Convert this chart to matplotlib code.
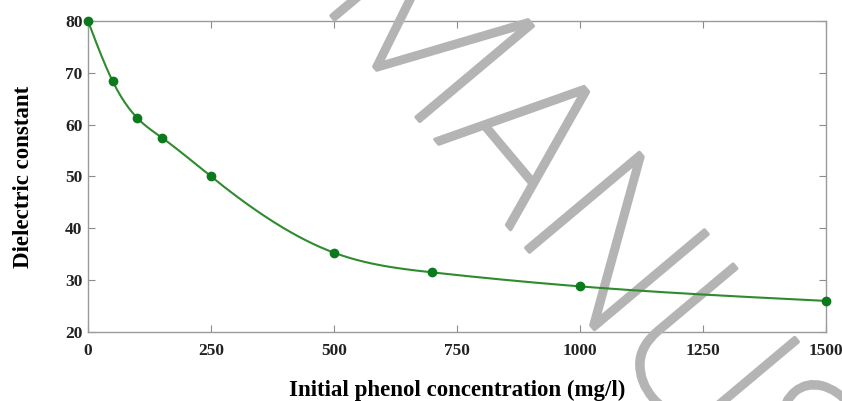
import numpy as np
import matplotlib
matplotlib.use("Agg")
import matplotlib.pyplot as plt
import matplotlib.patheffects as pe

# Measured dielectric constant versus initial phenol concentration
concentration = [0, 50, 100, 150, 250, 500, 700, 1000, 1500]
dielectric = [80.0, 68.4, 61.3, 57.5, 50.0, 35.3, 31.5, 28.8, 26.0]
x_ticks = [0, 250, 500, 750, 1000, 1250, 1500]
y_ticks = [20, 30, 40, 50, 60, 70, 80]


def natural_spline(x, y, xs):
    x = np.asarray(x, float)
    y = np.asarray(y, float)
    n = len(x)
    h = np.diff(x)
    A = np.zeros((n, n))
    b = np.zeros(n)
    A[0, 0] = A[-1, -1] = 1.0
    for i in range(1, n - 1):
        A[i, i - 1] = h[i - 1]
        A[i, i] = 2 * (h[i - 1] + h[i])
        A[i, i + 1] = h[i]
        b[i] = 6 * ((y[i + 1] - y[i]) / h[i] - (y[i] - y[i - 1]) / h[i - 1])
    M = np.linalg.solve(A, b)
    idx = np.clip(np.searchsorted(x, xs) - 1, 0, n - 2)
    x0, x1 = x[idx], x[idx + 1]
    hh = x1 - x0
    t0, t1 = x1 - xs, xs - x0
    return (M[idx] * t0**3 / (6 * hh) + M[idx + 1] * t1**3 / (6 * hh)
            + (y[idx] / hh - M[idx] * hh / 6) * t0
            + (y[idx + 1] / hh - M[idx + 1] * hh / 6) * t1)


fig = plt.figure(figsize=(8.42, 4.01), dpi=100)
ax = fig.add_axes([88 / 842, 1 - 332 / 401, 738 / 842, 311 / 401])

xs = np.linspace(0, 1500, 600)
ax.plot(xs, natural_spline(concentration, dielectric, xs),
        color="#2e8b2e", lw=1.5, zorder=3, clip_on=False)
ax.plot(concentration, dielectric, "o", color="#0b7a1c", ms=6, zorder=4,
        clip_on=False)

ax.set_xlim(0, 1500)
ax.set_ylim(20, 80)
ax.set_xticks(x_ticks)
ax.set_yticks(y_ticks)

serif = "Liberation Serif"
for lab in ax.get_xticklabels() + ax.get_yticklabels():
    lab.set_fontfamily(serif)
    lab.set_fontweight("bold")
    lab.set_fontsize(12.5)
    lab.set_color("#222222")

ax.tick_params(direction="in", length=5, width=0.8, color="#8c8c8c",
               top=True, right=True, pad=4)
ax.tick_params(axis="x", pad=8)
for s in ax.spines.values():
    s.set_color("#9a9a9a")
    s.set_linewidth(1.0)

ax.set_xlabel("Initial phenol concentration (mg/l)", fontfamily=serif,
              fontweight="bold", fontsize=16.5, labelpad=15)
ax.set_ylabel("Dielectric constant", fontfamily=serif,
              fontweight="bold", fontsize=16.5, labelpad=22)

# Diagonal watermark lettering
ax.text(318 / 842, 1 - 0 / 401, "MANUSCRIPT", transform=fig.transFigure,
        family="Roboto", fontweight=100, fontsize=150, color="#b4b4b4",
        rotation=-50, rotation_mode="anchor", ha="left", va="baseline",
        zorder=2.7, clip_on=False,
        path_effects=[pe.Stroke(linewidth=2.6, foreground="#b4b4b4"),
                      pe.Normal()])

fig.savefig("out.png", dpi=100)
